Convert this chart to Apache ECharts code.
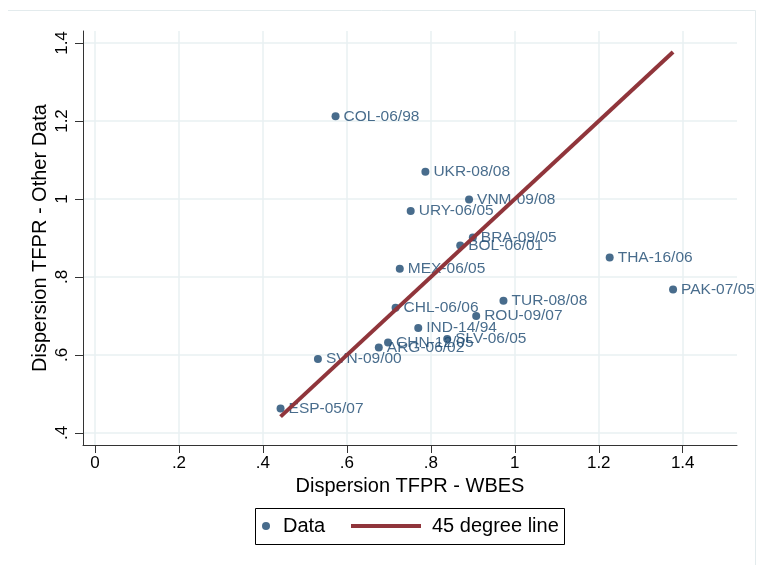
<!DOCTYPE html>
<html>
<head>
<meta charset="utf-8">
<script src="https://cdn.jsdelivr.net/npm/echarts@6/dist/echarts.min.js"></script>
<style>
  html, body { margin: 0; padding: 0; background: #fff; }
  #chart { width: 760px; height: 565px; }
</style>
</head>
<body>
<div id="chart"></div>
<script>
// country-period labels and values
var countries = ['COL-06/98', 'UKR-08/08', 'VNM-09/08', 'URY-06/05', 'BRA-09/05', 'BOL-06/01',
    'MEX-06/05', 'THA-16/06', 'PAK-07/05', 'TUR-08/08', 'CHL-06/06', 'ROU-09/07',
    'IND-14/94', 'SLV-06/05', 'CHN-12/05', 'ARG-06/02', 'SVN-09/00', 'ESP-05/07'];
var tfprWbes = [0.573, 0.787, 0.891, 0.752, 0.900, 0.870, 0.726, 1.226, 1.377, 0.973, 0.716, 0.908,
    0.770, 0.839, 0.698, 0.676, 0.531, 0.442];
var tfprOther = [1.212, 1.070, 0.999, 0.969, 0.901, 0.881, 0.821, 0.850, 0.768, 0.739, 0.721, 0.700,
    0.669, 0.641, 0.632, 0.619, 0.590, 0.463];
var xTicks = [0, 0.2, 0.4, 0.6, 0.8, 1, 1.2, 1.4];
var yTicks = [0.4, 0.6, 0.8, 1, 1.2, 1.4];

var navy = '#1a476f';
var maroon = '#90353b';
var gridColor = '#e9f0f2';
var fontFam = '"Liberation Sans", Arial, sans-serif';

function fmt(v) {
    // stata style: drop leading zero
    var s = String(Math.round(v * 10) / 10);
    return s.indexOf('0.') === 0 ? s.slice(1) : s;
}

var points = countries.map(function (c, i) {
    return { name: c, value: [tfprWbes[i], tfprOther[i]] };
});
var lo = Math.min.apply(null, tfprWbes);
var hi = Math.max.apply(null, tfprWbes);

var chart = echarts.init(document.getElementById('chart'));
var option = {
    backgroundColor: '#fff',
    animation: false,
    textStyle: { fontFamily: fontFam },
    grid: { left: 83, right: 23, top: 31, bottom: 120, containLabel: false },
    xAxis: {
        type: 'value',
        min: -0.0286,
        max: 1.5293,
        name: 'Dispersion TFPR - WBES',
        nameLocation: 'middle',
        nameGap: 31,
        nameTextStyle: { color: '#000', fontSize: 20, fontFamily: fontFam },
        axisLine: { show: true, onZero: false, lineStyle: { color: '#333', width: 1 } },
        axisTick: { show: true, length: 8, customValues: xTicks, lineStyle: { color: '#333' } },
        axisLabel: {
            customValues: xTicks, margin: 10, color: '#000', fontSize: 17,
            formatter: fmt
        },
        splitLine: { show: true, lineStyle: { color: gridColor, width: 1.5 } }
    },
    yAxis: {
        type: 'value',
        min: 0.3692,
        max: 1.4308,
        name: 'Dispersion TFPR - Other Data',
        nameLocation: 'middle',
        nameGap: 33,
        nameMoveOverlap: false,
        nameRotate: 90,
        nameTextStyle: { color: '#000', fontSize: 20, fontFamily: fontFam },
        axisLine: { show: true, onZero: false, lineStyle: { color: '#333', width: 1 } },
        axisTick: { show: true, length: 8, customValues: yTicks, lineStyle: { color: '#333' } },
        axisLabel: {
            customValues: yTicks, margin: 12, rotate: 90, color: '#000', fontSize: 17,
            formatter: fmt
        },
        splitLine: { show: true, lineStyle: { color: gridColor, width: 1.5 } }
    },
    legend: [
        {
            left: 262, top: 516, padding: 0,
            itemWidth: 8, itemHeight: 8,
            data: [{ name: 'Data', icon: 'circle' }],
            textStyle: { color: '#000', fontSize: 20, padding: [0, 0, 0, 8] }
        },
        {
            left: 351, top: 516, padding: 0,
            itemWidth: 70, itemHeight: 4,
            data: [{ name: '45 degree line', icon: 'rect' }],
            textStyle: { color: '#000', fontSize: 20, padding: [0, 0, 0, 6] }
        }
    ],
    graphic: [
        {
            type: 'rect',
            shape: { x: 255.5, y: 508.5, width: 309, height: 36 },
            style: { fill: 'none', stroke: '#000', lineWidth: 1 },
            silent: true
        },
        {
            type: 'polyline',
            shape: { points: [[8, 10.5], [755.5, 10.5], [755.5, 565]] },
            style: { fill: 'none', stroke: '#e3ebed', lineWidth: 1 },
            silent: true
        }
    ],
    series: [
        {
            name: 'Data',
            type: 'scatter',
            symbol: 'circle',
            symbolSize: 8,
            itemStyle: { color: navy },
            data: points,
            z: 3,
            label: {
                show: true,
                position: 'right',
                distance: 4,
                formatter: '{b}',
                color: navy,
                fontSize: 15.5,
                fontFamily: fontFam
            },
            labelLayout: { hideOverlap: false }
        },
        {
            name: '45 degree line',
            type: 'line',
            symbol: 'none',
            itemStyle: { color: maroon },
            lineStyle: { color: maroon, width: 4 },
            data: [[lo, lo], [hi, hi]],
            z: 4
        }
    ]
};
chart.setOption(option);
</script>
</body>
</html>
